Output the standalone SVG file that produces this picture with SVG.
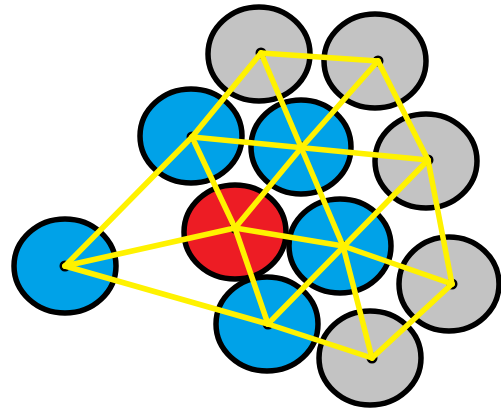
<svg xmlns="http://www.w3.org/2000/svg" width="501" height="412" viewBox="0 0 501 412">
<style>
.n ellipse{stroke:#000;stroke-width:5.5}
.gray{fill:#c3c3c3}
.blue{fill:#00a2e8}
.red{fill:#ed1c24}
.dot{fill:#000}
#edges line{stroke:#fff200;stroke-width:5.5;stroke-linecap:round}
</style>
<rect width="501" height="412" fill="#fff"/>
<g class="n" id="gt"><ellipse class="gray" cx="259" cy="54" rx="51" ry="47"/><circle class="dot" cx="261" cy="53" r="5.5"/></g>
<g class="n" id="gtr"><ellipse class="gray" cx="375" cy="61" rx="51" ry="47"/><circle class="dot" cx="378" cy="61" r="5.5"/></g>
<g class="n" id="gr"><ellipse class="gray" cx="426" cy="161" rx="51" ry="47"/><circle class="dot" cx="428" cy="160" r="5.5"/></g>
<g class="n" id="grl"><ellipse class="gray" cx="449" cy="284" rx="50" ry="47"/><circle class="dot" cx="452" cy="284" r="5.5"/></g>
<g class="n" id="gb"><ellipse class="gray" cx="370" cy="358" rx="51" ry="47"/><circle class="dot" cx="372" cy="358" r="5.5"/></g>
<g class="n" id="b1"><ellipse class="blue" cx="191" cy="136" rx="51" ry="47"/><circle class="dot" cx="192" cy="137" r="5.5"/></g>
<g class="n" id="b2"><ellipse class="blue" cx="301" cy="147" rx="50" ry="47"/><circle class="dot" cx="302" cy="147" r="5.5"/></g>
<g class="n" id="left"><ellipse class="blue" cx="65" cy="266" rx="51" ry="47"/><circle class="dot" cx="65" cy="266" r="5.5"/></g>
<g class="n" id="b3"><ellipse class="blue" cx="340" cy="246" rx="51" ry="47"/><circle class="dot" cx="343" cy="246" r="5.5"/></g>
<g class="n" id="bb"><ellipse class="blue" cx="267" cy="324" rx="51" ry="47"/><circle class="dot" cx="268" cy="324" r="5.5"/></g>
<g class="n" id="red"><ellipse class="red" cx="235" cy="232" rx="51" ry="47"/><circle class="dot" cx="235" cy="228" r="5.5"/></g>
<g id="edges">
<line x1="65" y1="266" x2="192" y2="137"/>
<line x1="192" y1="137" x2="261" y2="53"/>
<line x1="65" y1="266" x2="235" y2="228"/>
<line x1="65" y1="266" x2="268" y2="324"/>
<line x1="192" y1="137" x2="428" y2="160"/>
<line x1="192" y1="137" x2="235" y2="228"/>
<line x1="235" y1="228" x2="268" y2="324"/>
<line x1="261" y1="53" x2="343" y2="246"/>
<line x1="343" y1="246" x2="372" y2="358"/>
<line x1="261" y1="53" x2="378" y2="61"/>
<line x1="378" y1="61" x2="302" y2="147"/>
<line x1="302" y1="147" x2="235" y2="228"/>
<line x1="378" y1="61" x2="428" y2="160"/>
<line x1="428" y1="160" x2="452" y2="284"/>
<line x1="428" y1="160" x2="268" y2="324"/>
<line x1="235" y1="228" x2="343" y2="246"/>
<line x1="343" y1="246" x2="452" y2="284"/>
<line x1="268" y1="324" x2="372" y2="358"/>
<line x1="372" y1="358" x2="452" y2="284"/>
</g>
</svg>
